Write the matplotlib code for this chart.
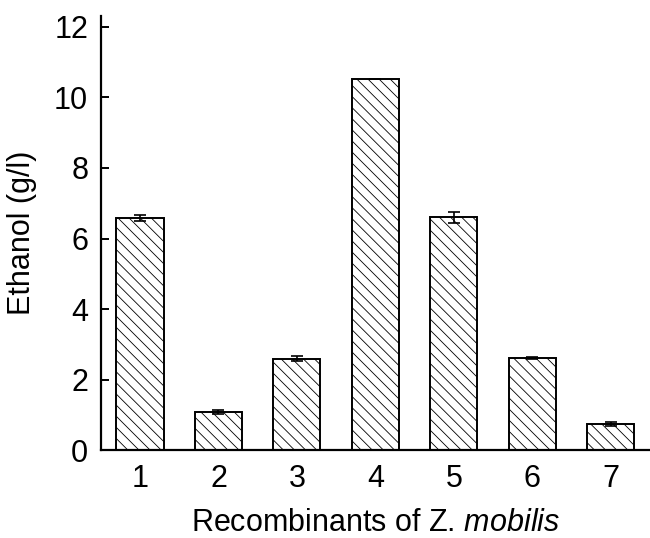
import matplotlib.pyplot as plt

plt.rcParams["font.family"] = ["Liberation Sans", "DejaVu Sans"]
plt.rcParams["mathtext.fontset"] = "custom"
plt.rcParams["mathtext.rm"] = "Liberation Sans"
plt.rcParams["mathtext.it"] = "Liberation Sans:italic"
plt.rcParams["hatch.linewidth"] = 0.6
plt.rcParams["hatch.color"] = "#444444"

strains = ["1", "2", "3", "4", "5", "6", "7"]
ethanol = [6.58, 1.08, 2.60, 10.52, 6.60, 2.61, 0.75]
ethanol_err = [0.08, 0.05, 0.07, 0.0, 0.16, 0.02, 0.05]


def main():
    fig = plt.figure(figsize=(6.5, 5.38), dpi=100)
    ax = fig.add_axes([0.155, 0.163, 0.845, 0.807])

    x = range(1, len(strains) + 1)
    ax.bar(x, ethanol, width=0.6, color="white", edgecolor="black",
           linewidth=1.4, hatch="\\\\\\", zorder=2)
    ax.errorbar(x, ethanol, yerr=ethanol_err, fmt="none", ecolor="black",
                elinewidth=1.2, capsize=4, capthick=1.2, zorder=3)

    ax.set_xlim(0.5, 7.5)
    ax.set_ylim(0, 12.3)
    ax.set_xticks(list(x))
    ax.set_xticklabels(strains)
    ax.set_yticks([0, 2, 4, 6, 8, 10, 12])

    for side in ("top", "right"):
        ax.spines[side].set_visible(False)
    for side in ("left", "bottom"):
        ax.spines[side].set_linewidth(1.6)

    ax.tick_params(axis="both", direction="in", length=6, width=1.4,
                   labelsize=22)
    ax.tick_params(axis="y", pad=9)
    ax.tick_params(axis="x", pad=10)
    ax.set_ylabel("Ethanol (g/l)", fontsize=22, labelpad=12)
    ax.set_xlabel("Recombinants of Z. $\\mathit{mobilis}$",
                  fontsize=22, labelpad=10)

    fig.savefig("out.png", dpi=100)
    plt.close(fig)


if __name__ == "__main__":
    main()
